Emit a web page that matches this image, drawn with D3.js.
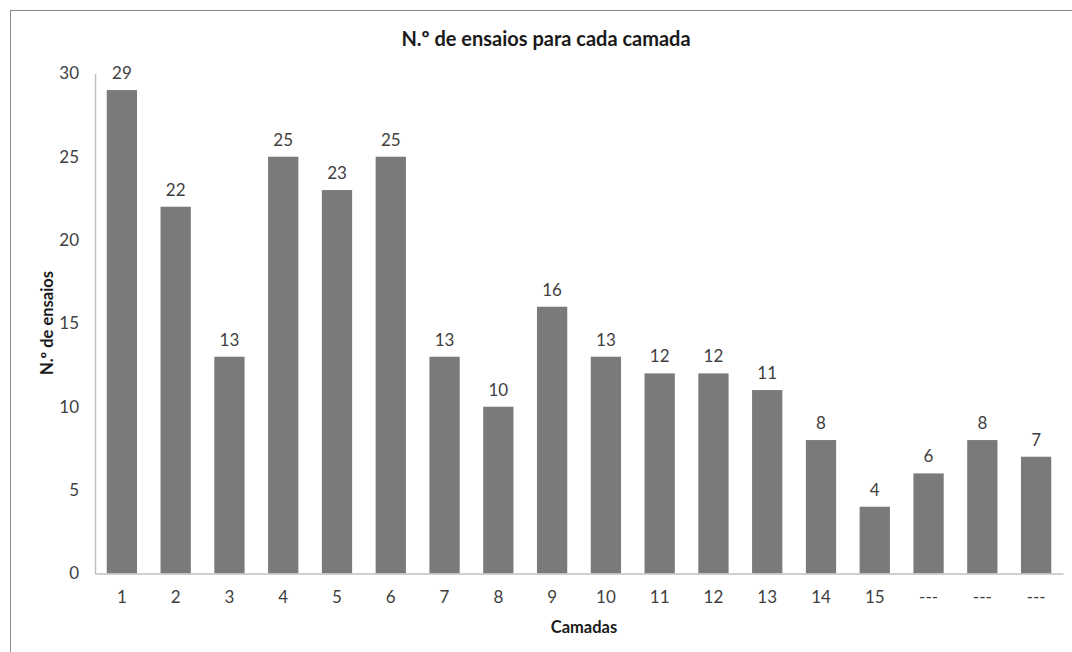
<!DOCTYPE html>
<html>
<head>
<meta charset="utf-8">
<script src="https://cdn.jsdelivr.net/npm/d3@7"></script>
<style>
  html, body { margin: 0; padding: 0; background: #fff; }
  svg { display: block; font-family: Lato, "Open Sans", sans-serif; }
</style>
</head>
<body>
<svg id="chart" width="1072" height="652"></svg>
<script>
// Layers (camadas) and number of tests per layer
const categories = ["1", "2", "3", "4", "5", "6", "7", "8", "9", "10", "11", "12", "13", "14", "15", "---", "---", "---"];
const values = [29, 22, 13, 25, 23, 25, 13, 10, 16, 13, 12, 12, 11, 8, 4, 6, 8, 7];
const yTicks = [0, 5, 10, 15, 20, 25, 30];
const title = "N.º de ensaios para cada camada";
const yTitle = "N.º de ensaios";
const xTitle = "Camadas";

const svg = d3.select("#chart");
const margin = { left: 95, right: 1063, top: 73.4, bottom: 573.4 };

// Chart frame
svg.append("rect")
  .attr("x", 10.5).attr("y", 10.5)
  .attr("width", 1100).attr("height", 700)
  .attr("fill", "#fff").attr("stroke", "#8a8a8a").attr("stroke-width", 1);

// Duplicate "---" labels need unique band keys, so use indices
const idx = categories.map((_, i) => i);
const x = d3.scaleBand().domain(idx).range([margin.left, margin.right])
  .paddingInner(0.437).paddingOuter(0.2185);
const y = d3.scaleLinear().domain([0, 30]).range([margin.bottom, margin.top]);

// Y axis (labels only, with a light axis line)
const yAxis = svg.append("g")
  .attr("transform", `translate(${margin.left},0)`)
  .call(d3.axisLeft(y).tickValues(yTicks).tickSize(0).tickPadding(16));
yAxis.select(".domain").attr("stroke", "#bfbfbf").attr("stroke-width", 1.5);
yAxis.selectAll("text").attr("font-size", 17).attr("fill", "#404040")
  .attr("font-family", "Lato, sans-serif");

// Bars
svg.append("g").selectAll("rect")
  .data(values)
  .join("rect")
  .attr("x", (d, i) => x(i))
  .attr("y", d => y(d))
  .attr("width", x.bandwidth())
  .attr("height", d => y(0) - y(d))
  .attr("fill", "#7a7a7a");

// X axis
const xAxis = svg.append("g")
  .attr("transform", `translate(0,${margin.bottom})`)
  .call(d3.axisBottom(x).tickFormat(i => categories[i]).tickSize(0).tickPadding(18));
xAxis.select(".domain").attr("stroke", "#bfbfbf").attr("stroke-width", 1.5);
xAxis.selectAll("text").attr("font-size", 17).attr("fill", "#404040")
  .attr("font-family", "Lato, sans-serif");

// Value labels above bars
svg.append("g").selectAll("text")
  .data(values)
  .join("text")
  .attr("x", (d, i) => x(i) + x.bandwidth() / 2)
  .attr("y", d => y(d) - 11)
  .attr("text-anchor", "middle")
  .attr("font-size", 17)
  .attr("fill", "#404040")
  .text(d => d);

// Titles
svg.append("text")
  .attr("x", 546).attr("y", 46)
  .attr("text-anchor", "middle")
  .attr("font-size", 20).attr("font-weight", "bold").attr("fill", "#1a1a1a")
  .text(title);

svg.append("text")
  .attr("transform", "translate(53,323) rotate(-90)")
  .attr("text-anchor", "middle")
  .attr("font-size", 16.5).attr("font-weight", "bold").attr("fill", "#1a1a1a")
  .text(yTitle);

svg.append("text")
  .attr("x", 584).attr("y", 633)
  .attr("text-anchor", "middle")
  .attr("font-size", 16.5).attr("font-weight", "bold").attr("fill", "#1a1a1a")
  .text(xTitle);
</script>
</body>
</html>
